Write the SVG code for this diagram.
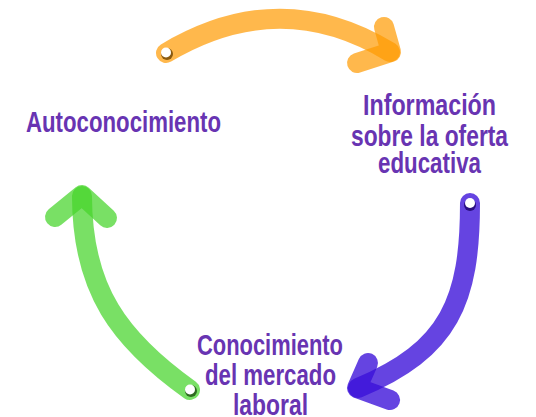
<svg xmlns="http://www.w3.org/2000/svg" width="536" height="417" viewBox="0 0 536 417">
<style>
.lbl{font-family:"Liberation Sans",Arial,sans-serif;font-weight:bold;font-size:29px;fill:#6834B2}
.arc{fill:none;stroke-width:20;stroke-linecap:round;stroke-linejoin:round}
.o{stroke:#FF9A00;stroke-opacity:0.7}
.p{stroke:#3A10D8;stroke-opacity:0.78}
.g{stroke:#45D42A;stroke-opacity:0.72}
</style>
<rect width="536" height="417" fill="#ffffff"/>
<g id="connectors">
  <g id="arrow-orange">
    <path class="arc o" d="M166,53 Q280,-15 390,52"/>
    <path class="arc o" d="M384,27 L391,52 L357,63"/>
    <circle cx="167" cy="54" r="6" fill="#8A5A10"/>
    <circle cx="166" cy="52.5" r="5" fill="#ffffff"/>
  </g>
  <g id="arrow-purple">
    <path class="arc p" d="M470,203 C470,300 450,350 358,388"/>
    <path class="arc p" d="M368,363 L357,388 L390,400"/>
    <circle cx="470" cy="205" r="6" fill="#2A0E80"/>
    <circle cx="470" cy="203" r="5" fill="#ffffff"/>
  </g>
  <g id="arrow-green">
    <path class="arc g" d="M190,390 C120,340 82,290 82,196"/>
    <path class="arc g" d="M55,217 L82,195 L107,218"/>
    <circle cx="191" cy="391" r="6" fill="#2E6A20"/>
    <circle cx="190" cy="389.5" r="5" fill="#ffffff"/>
  </g>
</g>
<g id="node-autoconocimiento">
  <text class="lbl" x="26" y="132" textLength="195" lengthAdjust="spacingAndGlyphs">Autoconocimiento</text>
</g>
<g id="node-informacion">
  <text class="lbl" x="363" y="115" textLength="133" lengthAdjust="spacingAndGlyphs">Información</text>
  <text class="lbl" x="351" y="146" textLength="157" lengthAdjust="spacingAndGlyphs">sobre la oferta</text>
  <text class="lbl" x="378" y="173" textLength="103" lengthAdjust="spacingAndGlyphs">educativa</text>
</g>
<g id="node-conocimiento">
  <text class="lbl" x="197" y="355" textLength="146" lengthAdjust="spacingAndGlyphs">Conocimiento</text>
  <text class="lbl" x="205" y="385" textLength="131" lengthAdjust="spacingAndGlyphs">del mercado</text>
  <text class="lbl" x="233" y="415" textLength="75" lengthAdjust="spacingAndGlyphs">laboral</text>
</g>
</svg>
